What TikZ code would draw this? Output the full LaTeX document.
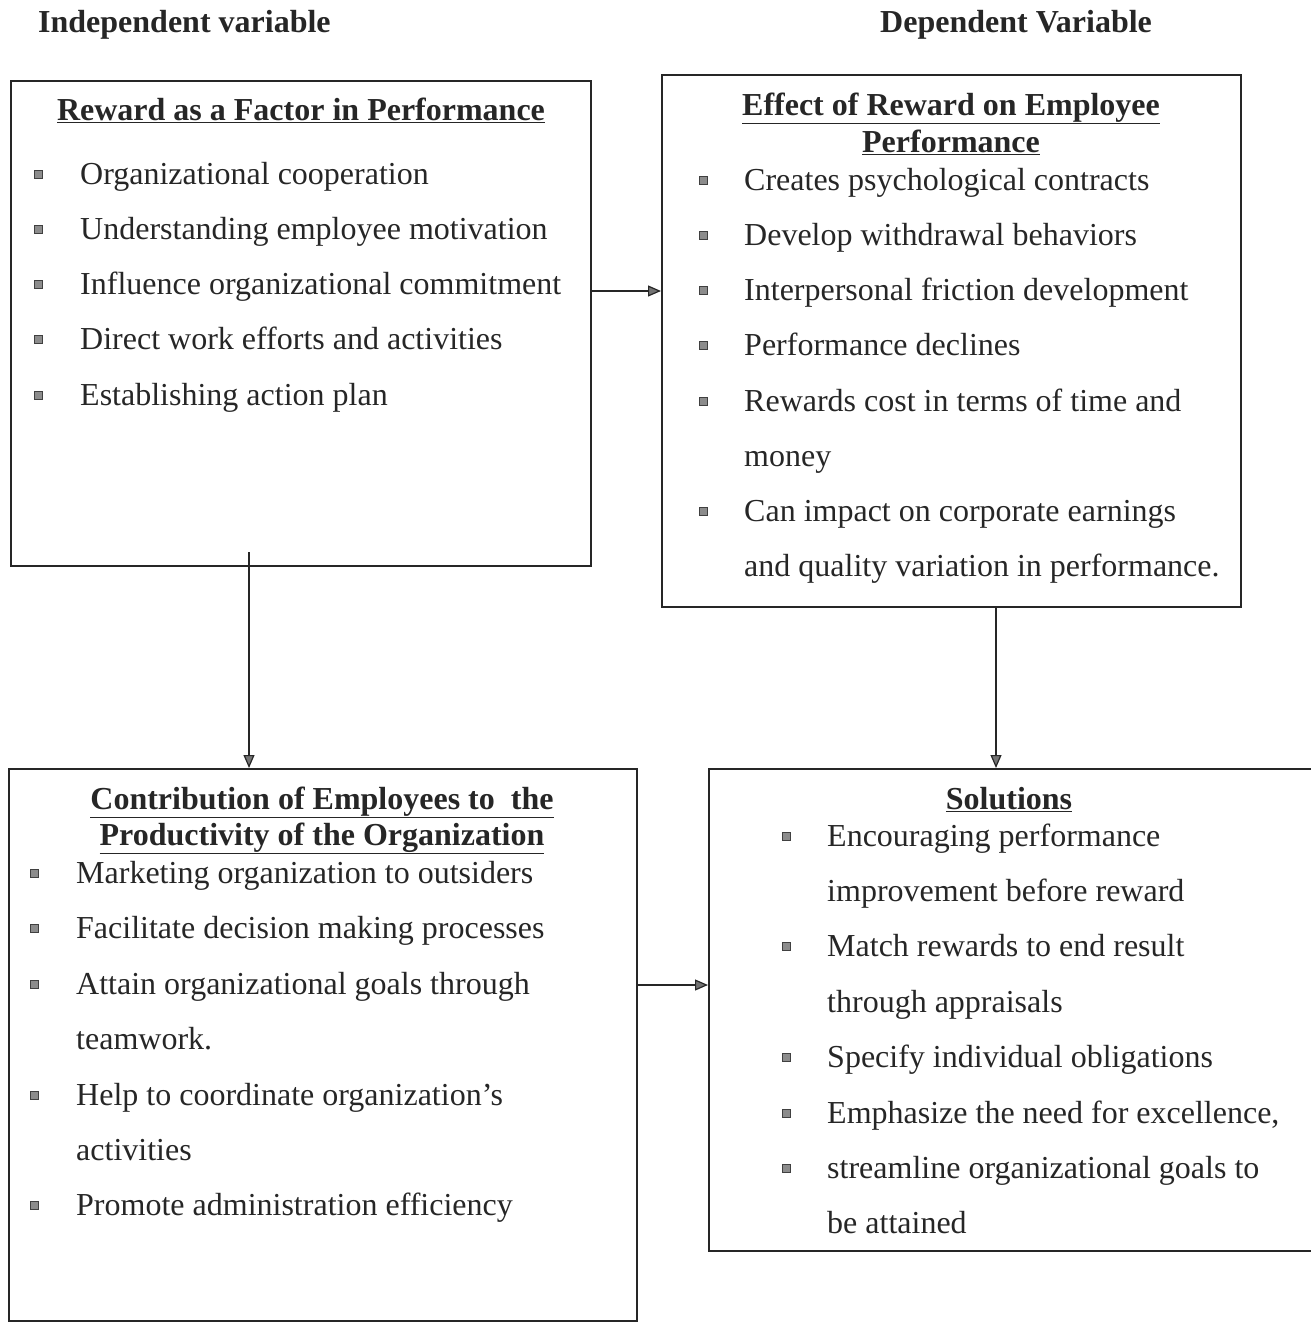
\documentclass[tikz,border=0pt]{standalone}
\usepackage{fontspec}
\setmainfont{Liberation Serif}
\usetikzlibrary{arrows.meta,calc}
\tikzset{
  box/.style={draw=black!85, line width=1.8pt, anchor=north west, inner sep=0pt},
  txt/.style={anchor=base west, inner sep=0pt, font=\fontsize{32}{38}\selectfont, text=black!85},
  ttl/.style={anchor=base, inner sep=0pt, font=\fontsize{32}{38}\selectfont\bfseries, text=black!85},
  hdr/.style={anchor=base west, inner sep=0pt, font=\fontsize{32}{38}\selectfont\bfseries, text=black!85},
  bul/.style={draw=black!75, fill=black!45, line width=0.7pt, minimum size=8pt, inner sep=0pt},
  arr/.style={draw=black!85, line width=1.2pt, -{Triangle[length=13pt,width=11pt,fill=black!55]}}
}
\begin{document}
\begin{tikzpicture}[x=1pt,y=-1pt]
\useasboundingbox (0,0) rectangle (1310,1322);
% headers
\node[hdr] (h1) at (38,33) {Independent variable};
\node[hdr] (h2) at (880,33) {Dependent Variable};
% boxes
\node[box, minimum width=580pt, minimum height=485pt] (b1) at (10,80) {};
\node[box, minimum width=579pt, minimum height=532pt] (b2) at (661,74) {};
\node[box, minimum width=628pt, minimum height=552pt] (b3) at (8,768) {};
\node[box, minimum width=610pt, minimum height=482pt] (b4) at (708,768) {};
% box 1
\node[ttl] (t1) at (301,120) {\underline{Reward as a Factor in Performance}};
\node[bul] (p11) at (38,174) {}; \node[txt] (l11) at (80,184) {Organizational cooperation};
\node[bul] (p12) at (38,229) {}; \node[txt] (l12) at (80,239) {Understanding employee motivation};
\node[bul] (p13) at (38,284) {}; \node[txt] (l13) at (80,294) {Influence organizational commitment};
\node[bul] (p14) at (38,339) {}; \node[txt] (l14) at (80,349) {Direct work efforts and activities};
\node[bul] (p15) at (38,395) {}; \node[txt] (l15) at (80,405) {Establishing action plan};
% box 2
\node[ttl] (t2a) at (951,115) {\underline{Effect of Reward on Employee}};
\node[ttl] (t2b) at (951,152) {\underline{Performance}};
\node[bul] (p21) at (703,180) {}; \node[txt] (l21) at (744,190) {Creates psychological contracts};
\node[bul] (p22) at (703,235) {}; \node[txt] (l22) at (744,245) {Develop withdrawal behaviors};
\node[bul] (p23) at (703,290) {}; \node[txt] (l23) at (744,300) {Interpersonal friction development};
\node[bul] (p24) at (703,345) {}; \node[txt] (l24) at (744,355) {Performance declines};
\node[bul] (p25) at (703,401) {}; \node[txt] (l25) at (744,411) {Rewards cost in terms of time and};
\node[txt] (l26) at (744,466) {money};
\node[bul] (p27) at (703,511) {}; \node[txt] (l27) at (744,521) {Can impact on corporate earnings};
\node[txt] (l28) at (744,576) {and quality variation in performance.};
% box 3
\node[ttl] (t3a) at (322,809) {\underline{Contribution of Employees to\ \ the}};
\node[ttl] (t3b) at (322,845) {\underline{Productivity of the Organization}};
\node[bul] (p31) at (34,873) {}; \node[txt] (l31) at (76,883) {Marketing organization to outsiders};
\node[bul] (p32) at (34,928) {}; \node[txt] (l32) at (76,938) {Facilitate decision making processes};
\node[bul] (p33) at (34,984) {}; \node[txt] (l33) at (76,994) {Attain organizational goals through};
\node[txt] (l34) at (76,1049) {teamwork.};
\node[bul] (p35) at (34,1095) {}; \node[txt] (l35) at (76,1105) {Help to coordinate organization’s};
\node[txt] (l36) at (76,1160) {activities};
\node[bul] (p37) at (34,1205) {}; \node[txt] (l37) at (76,1215) {Promote administration efficiency};
% box 4
\node[ttl] (t4) at (1009,809) {\underline{Solutions}};
\node[bul] (p41) at (786,836) {}; \node[txt] (l41) at (827,846) {Encouraging performance};
\node[txt] (l42) at (827,901) {improvement before reward};
\node[bul] (p43) at (786,946) {}; \node[txt] (l43) at (827,956) {Match rewards to end result};
\node[txt] (l44) at (827,1012) {through appraisals};
\node[bul] (p45) at (786,1057) {}; \node[txt] (l45) at (827,1067) {Specify individual obligations};
\node[bul] (p46) at (786,1113) {}; \node[txt] (l46) at (827,1123) {Emphasize the need for excellence,};
\node[bul] (p47) at (786,1168) {}; \node[txt] (l47) at (827,1178) {streamline organizational goals to};
\node[txt] (l48) at (827,1233) {be attained};
% connectors
\coordinate (c1) at ($(b1.north east)+(0,211)$);
\coordinate (c3) at ($(b3.north east)+(0,217)$);
\draw[arr] (c1) -- (c1 -| b2.west);
\draw[arr] (c3) -- (c3 -| b4.west);
\coordinate (d1) at (249,552);
\draw[arr] (d1) -- (d1 |- b3.north);
\coordinate (d2) at (996,606);
\draw[arr] (d2) -- (d2 |- b4.north);
\end{tikzpicture}
\end{document}
